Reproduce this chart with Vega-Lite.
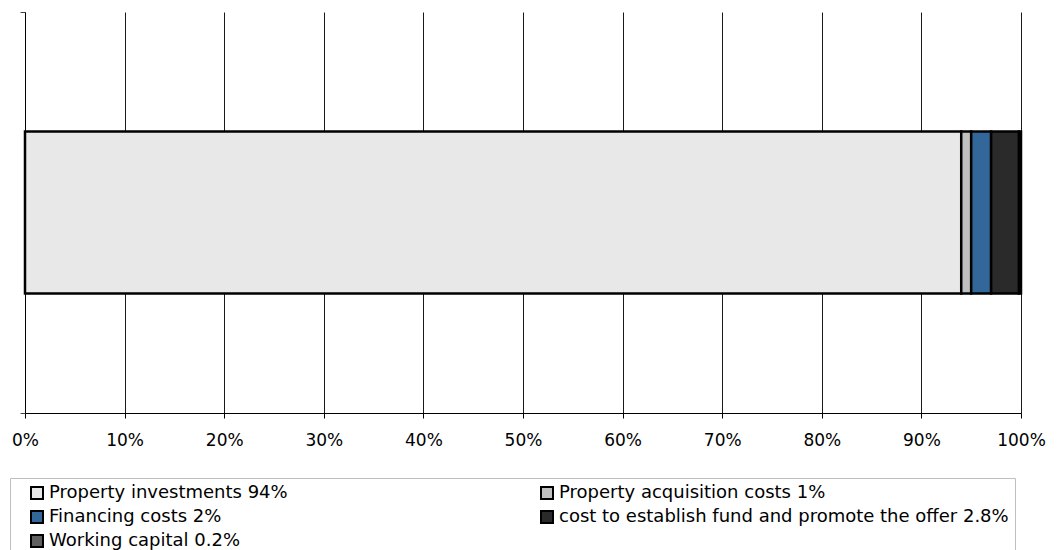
{
  "$schema": "https://vega.github.io/schema/vega-lite/v6.json",
  "width": 996,
  "height": 401,
  "autosize": {"type": "none"},
  "padding": {"left": 25, "top": 12, "right": 40, "bottom": 137},
  "background": "white",
  "data": {
    "values": [
      {"fund": "Use of funds", "item": "Property investments 94%", "share": 94, "order": 1},
      {"fund": "Use of funds", "item": "Property acquisition costs 1%", "share": 1, "order": 2},
      {"fund": "Use of funds", "item": "Financing costs 2%", "share": 2, "order": 3},
      {"fund": "Use of funds", "item": "cost to establish fund and promote the offer 2.8%", "share": 2.8, "order": 4},
      {"fund": "Use of funds", "item": "Working capital 0.2%", "share": 0.2, "order": 5}
    ]
  },
  "mark": {"type": "bar", "height": {"band": 0.404}, "stroke": "#000", "strokeWidth": 2.5},
  "encoding": {
    "y": {
      "field": "fund",
      "type": "nominal",
      "scale": {"paddingInner": 0, "paddingOuter": 0},
      "axis": {"title": null, "labels": false, "tickBand": "extent", "domainColor": "#000", "tickColor": "#444", "tickSize": 5, "grid": false}
    },
    "x": {
      "field": "share",
      "type": "quantitative",
      "stack": "normalize",
      "axis": {
        "title": null,
        "format": ".0%",
        "values": [0, 0.1, 0.2, 0.3, 0.4, 0.5, 0.6, 0.7, 0.8, 0.9, 1],
        "grid": true,
        "gridColor": "#000",
        "gridOpacity": 0.9,
        "domainColor": "#000",
        "tickColor": "#000",
        "tickSize": 5,
        "labelFlush": false,
        "labelPadding": 14,
        "labelFontSize": 17,
        "labelFont": "DejaVu Sans",
        "labelColor": "#000"
      }
    },
    "fill": {
      "field": "item",
      "type": "nominal",
      "scale": {
        "domain": [
          "Property investments 94%",
          "Property acquisition costs 1%",
          "Financing costs 2%",
          "cost to establish fund and promote the offer 2.8%",
          "Working capital 0.2%"
        ],
        "range": ["#e8e8e8", "#c0c0c0", "#336699", "#2a2a2a", "#5f5f5f"]
      },
      "legend": {
        "title": null,
        "orient": "none",
        "direction": "horizontal",
        "legendX": -15,
        "legendY": 466,
        "columns": 2,
        "columnPadding": 238,
        "rowPadding": 4,
        "padding": 6,
        "symbolOffset": 12,
        "strokeColor": "#bfbfbf",
        "labelFontSize": 18,
        "labelFont": "DejaVu Sans",
        "labelColor": "#000",
        "labelLimit": 0,
        "labelOffset": 3,
        "symbolType": "square",
        "symbolSize": 144,
        "symbolStrokeColor": "#000",
        "symbolStrokeWidth": 2,
        "symbolOpacity": 1
      }
    },
    "order": {"field": "order"}
  },
  "config": {"view": {"stroke": null}}
}
